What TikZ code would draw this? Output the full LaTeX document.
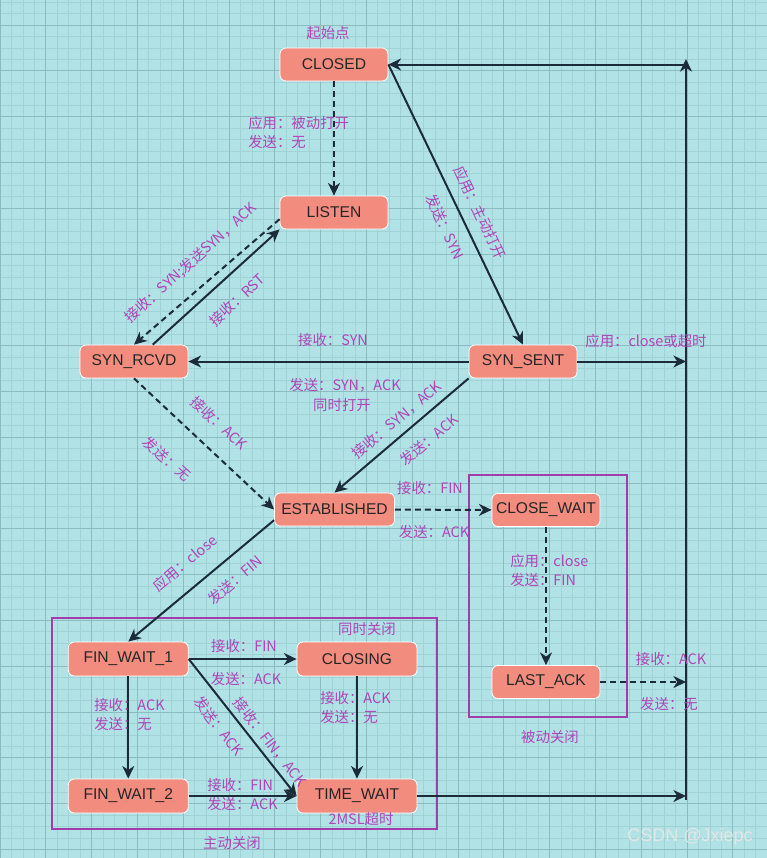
\documentclass[tikz,border=0pt]{standalone}
\usepackage{fontspec}
\setmainfont{Liberation Sans}
\newfontfamily\cjk{Noto Sans CJK SC}
\usepackage{xcolor}
\definecolor{bg_cyan}{HTML}{B1E3E6}
\definecolor{grid_minor}{HTML}{A0D2D6}
\definecolor{grid_major}{HTML}{8CBCC0}
\definecolor{s_red}{HTML}{F28C7F}
\definecolor{s_line}{HTML}{1C2B38}
\definecolor{s_purple}{HTML}{A23DAA}
\definecolor{s_label}{HTML}{AE45B8}
\usepackage{tikz}
\usetikzlibrary{positioning,arrows.meta}

\begin{document}
\begin{tikzpicture}[
        x=0.75pt, y=-0.75pt,
        state/.style={fill=s_red,draw=white,line width=0.6pt,rounded corners=4.5pt,
            minimum width=81pt,minimum height=24.75pt,inner sep=0pt,
            font=\fontsize{11.7}{13}\selectfont,text=black!85},
        wide state/.style={state,minimum width=90pt,minimum height=25.5pt},
        trans/.style={draw=s_line,line width=1.5pt,-{Stealth[length=9.5pt,width=9pt,inset=3pt]}},
        passive/.style={trans,dash pattern=on 4.5pt off 3pt},
        note/.style={text=s_label,inner sep=0pt,font=\cjk\fontsize{10.8}{14.25}\selectfont,align=left},
        closebox/.style={draw=s_purple,line width=1.6pt}
    ]
    \fill[bg_cyan] (0,0) rectangle (767,858);
    \useasboundingbox (0,0) rectangle (767,858);
    \foreach \k in {0,...,67} \draw[grid_minor,line width=0.6pt] ({\k*11.45},0) -- ({\k*11.45},858);
    \foreach \k in {0,...,74} \draw[grid_minor,line width=0.6pt] (0,{2.1+\k*11.45}) -- (767,{2.1+\k*11.45});
    \foreach \k in {0,...,16} \draw[grid_major,line width=0.75pt] ({\k*45.8},0) -- ({\k*45.8},858);
    \foreach \k in {0,...,18} \draw[grid_major,line width=0.75pt] (0,{25+\k*45.8}) -- (767,{25+\k*45.8});

    \draw[closebox] (52,618) rectangle (437,829);
    \draw[closebox] (469,475) rectangle (627,717);

    \node[state] (CLOSED) at (334,64.5) {CLOSED};
    \node[state] (LISTEN) at (334,212.5) {LISTEN};
    \node[state] (SYNRCVD) at (134,361.5) {SYN\_RCVD};
    \node[state] (SYNSENT) at (523,361.5) {SYN\_SENT};
    \node[wide state,minimum height=24.75pt] (ESTAB) at (334.5,509.5) {ESTABLISHED};
    \node[state] (CLOSEWAIT) at (546,510) {CLOSE\_WAIT};
    \node[state] (LASTACK) at (546,682) {LAST\_ACK};
    \node[wide state] (FINWAIT1) at (128.3,659) {FIN\_WAIT\_1};
    \node[wide state] (CLOSING) at (357,659) {CLOSING};
    \node[wide state] (FINWAIT2) at (128.3,796) {FIN\_WAIT\_2};
    \node[wide state] (TIMEWAIT) at (357,796) {TIME\_WAIT};

    \coordinate (back_bot) at (686,800);
    \coordinate (back_top) at (686,59);
    \coordinate (back_ret) at (686,64.5);

    \draw[passive] (CLOSED) -- (LISTEN);
    \draw[trans] (CLOSED.east) -- (SYNSENT.north);
    \draw[passive] (LISTEN.187) -- (SYNRCVD.north);
    \draw[trans] (SYNRCVD.42) -- (LISTEN.south west);
    \draw[trans] (SYNSENT) -- (SYNRCVD);
    \draw[passive] (SYNRCVD.south) -- (ESTAB.west);
    \draw[trans] (SYNSENT.south west) -- (ESTAB.north);
    \draw[passive] (ESTAB) -- (CLOSEWAIT);
    \draw[passive] (CLOSEWAIT) -- (LASTACK);
    \draw[trans] (ESTAB.190) -- (FINWAIT1.north);
    \draw[trans] (FINWAIT1) -- (CLOSING);
    \draw[trans] (FINWAIT1.east) -- (TIMEWAIT.west);
    \draw[trans] (FINWAIT1) -- (FINWAIT2);
    \draw[trans] (FINWAIT2) -- (TIMEWAIT);
    \draw[trans] (CLOSING) -- (TIMEWAIT);
    \draw[trans] (back_bot) -- (back_top);
    \draw[trans] (back_ret) -- (CLOSED.east);
    \draw[trans] (SYNSENT.east) -- (SYNSENT.east -| back_bot);
    \draw[passive] (LASTACK.east) -- (LASTACK.east -| back_bot);
    \draw[trans] (TIMEWAIT.east) -- (TIMEWAIT.east -| back_bot);

    \node[note] (lbl_start) at (328,33) {起始点};
    \node[note,anchor=west] (lbl_listen) at (248,132) {应用：被动打开\\发送：无};
    \node[note,rotate=42] (lbl_syn_a) at (191,263) {接收：SYN;发送SYN，ACK};
    \node[note,rotate=42] (lbl_rst) at (237,300) {接收：RST};
    \node[note,rotate=-65] (lbl_open_a) at (480,213) {应用：主动打开};
    \node[note,rotate=-65] (lbl_open_b) at (445,227) {发送：SYN};
    \node[note] (lbl_sim_a) at (333,340) {接收：SYN};
    \node[note] (lbl_sim_b) at (345,385) {发送：SYN，ACK};
    \node[note] (lbl_sim_c) at (342,405) {同时打开};
    \node[note,rotate=40] (lbl_est_a) at (397,420) {接收：SYN，ACK};
    \node[note,rotate=40] (lbl_est_b) at (429,440) {发送：ACK};
    \node[note,rotate=-42] (lbl_rcv_a) at (219,423) {接收：ACK};
    \node[note,rotate=-42] (lbl_rcv_b) at (167,459) {发送：无};
    \node[note] (lbl_cw_a) at (430,488) {接收：FIN};
    \node[note] (lbl_cw_b) at (434,532) {发送：ACK};
    \node[note,anchor=west] (lbl_la) at (510,570) {应用：close\\发送：FIN};
    \node[note] (lbl_end_a) at (671,659) {接收：ACK};
    \node[note] (lbl_end_b) at (669,704) {发送：无};
    \node[note] (lbl_passive) at (550,737) {被动关闭};
    \node[note] (lbl_timeout) at (646,341) {应用：close或超时};
    \node[note,rotate=40] (lbl_fin_a) at (185,563) {应用：close};
    \node[note,rotate=40] (lbl_fin_b) at (235,580) {发送：FIN};
    \node[note] (lbl_simclose) at (367,629) {同时关闭};
    \node[note] (lbl_cl_a) at (244,646) {接收：FIN};
    \node[note] (lbl_cl_b) at (246,679) {发送：ACK};
    \node[note,anchor=west] (lbl_fw2) at (94,714.5) {接收：ACK\\发送：无};
    \node[note,anchor=west] (lbl_tw) at (320,708) {接收：ACK\\发送：无};
    \node[note,rotate=-52] (lbl_diag_a) at (270,742) {接收：FIN，ACK};
    \node[note,rotate=-52] (lbl_diag_b) at (219,726) {发送：ACK};
    \node[note,anchor=west] (lbl_fw2tw) at (207,795) {接收：FIN\\发送：ACK};
    \node[note] (lbl_msl) at (361,819) {2MSL超时};
    \node[note] (lbl_active) at (232,843) {主动关闭};
    \node[text=white!80!gray,inner sep=0pt,font=\fontsize{13.5}{16}\selectfont] (mark) at (690,837) {CSDN @Jxiepc};
\end{tikzpicture}
\end{document}
